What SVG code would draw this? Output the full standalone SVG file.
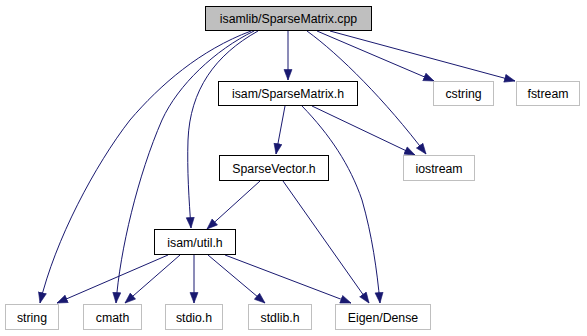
<svg xmlns="http://www.w3.org/2000/svg" width="587" height="336" viewBox="0 0 587 336">
  <style>
    .node rect { fill: #ffffff; stroke: #000000; stroke-width: 1; }
    .node.root rect { fill: #bfbfbf; }
    .node.ext rect { stroke: #bfbfbf; }
    .node text { font-family: "Liberation Sans", Arial, sans-serif; font-size: 12.3px; fill: #000000; text-anchor: middle; }
    .edges path { fill: none; stroke: #191970; stroke-width: 1; marker-end: url(#arrow); }
  </style>
  <defs>
    <marker id="arrow" markerUnits="userSpaceOnUse" markerWidth="12" markerHeight="10" refX="11" refY="4.5" orient="auto">
      <path d="M0.5,0.5 L11,4.5 L0.5,8.5 Z" fill="#191970" stroke="#191970" stroke-width="0.6"/>
    </marker>
  </defs>
  <rect width="587" height="336" fill="#ffffff"/>

  <!-- dependency edges -->
  <g id="edges" class="edges">
    <path d="M251,31 C200,50 160,85 130,120 C95,165 55,240 40,303"/>
    <path d="M254,31 C215,50 178,85 162,120 C138,175 120,250 116,303"/>
    <path d="M258,31 C215,55 190,90 188,140 C187,170 189,200 191,228"/>
    <path d="M288,31 L288,80"/>
    <path d="M307,31 C340,55 385,100 426,154"/>
    <path d="M317,31 L434,81"/>
    <path d="M330,31 L515,81"/>
    <path d="M285,106 L276,154"/>
    <path d="M312,106 L415,155"/>
    <path d="M302,106 C330,135 350,165 362,200 C372,235 377,270 380,303"/>
    <path d="M260,181 L207,229"/>
    <path d="M283,181 L369,303"/>
    <path d="M168,255 L57,303"/>
    <path d="M180,255 L125,303"/>
    <path d="M194,255 L194,303"/>
    <path d="M208,255 L265,303"/>
    <path d="M225,255 L351,303"/>
  </g>

  <g id="node-root" class="node root">
    <rect x="205.5" y="6.5" width="166" height="24"/>
    <text x="288.5" y="23">isamlib/SparseMatrix.cpp</text>
  </g>
  <g id="node-sparsematrix-h" class="node">
    <rect x="218.5" y="81.5" width="139" height="24"/>
    <text x="288" y="98">isam/SparseMatrix.h</text>
  </g>
  <g id="node-cstring" class="node ext">
    <rect x="433.5" y="81.5" width="60" height="24"/>
    <text x="463.5" y="98">cstring</text>
  </g>
  <g id="node-fstream" class="node ext">
    <rect x="516.5" y="81.5" width="63" height="24"/>
    <text x="548" y="98">fstream</text>
  </g>
  <g id="node-sparsevector-h" class="node">
    <rect x="219.5" y="155.5" width="109" height="25"/>
    <text x="274" y="172.5">SparseVector.h</text>
  </g>
  <g id="node-iostream" class="node ext">
    <rect x="403.5" y="155.5" width="71" height="25"/>
    <text x="439" y="172.5">iostream</text>
  </g>
  <g id="node-util-h" class="node">
    <rect x="154.5" y="229.5" width="81" height="25"/>
    <text x="195" y="246.5">isam/util.h</text>
  </g>
  <g id="node-string" class="node ext">
    <rect x="5.5" y="304.5" width="53" height="25"/>
    <text x="32" y="321.5">string</text>
  </g>
  <g id="node-cmath" class="node ext">
    <rect x="83.5" y="304.5" width="58" height="25"/>
    <text x="112.5" y="321.5">cmath</text>
  </g>
  <g id="node-stdio-h" class="node ext">
    <rect x="165.5" y="304.5" width="57" height="25"/>
    <text x="194" y="321.5">stdio.h</text>
  </g>
  <g id="node-stdlib-h" class="node ext">
    <rect x="248.5" y="304.5" width="63" height="25"/>
    <text x="280" y="321.5">stdlib.h</text>
  </g>
  <g id="node-eigen-dense" class="node ext">
    <rect x="335.5" y="304.5" width="95" height="25"/>
    <text x="383" y="321.5">Eigen/Dense</text>
  </g>
</svg>
